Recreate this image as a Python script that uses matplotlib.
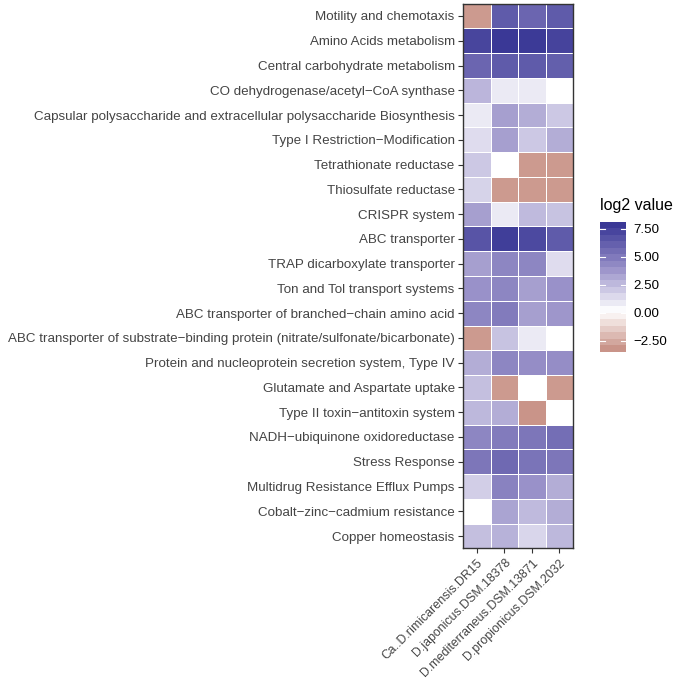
import matplotlib.pyplot as plt
import numpy as np
from matplotlib.colors import LinearSegmentedColormap, Normalize

plt.rcParams['font.family'] = ['Liberation Sans', 'DejaVu Sans']

# values (log2 scale)
pathways = ["Motility and chemotaxis",
            "Amino Acids metabolism",
            "Central carbohydrate metabolism",
            "CO dehydrogenase/acetyl\u2212CoA synthase",
            "Capsular polysaccharide and extracellular polysaccharide Biosynthesis",
            "Type I Restriction\u2212Modification",
            "Tetrathionate reductase",
            "Thiosulfate reductase",
            "CRISPR system",
            "ABC transporter",
            "TRAP dicarboxylate transporter",
            "Ton and Tol transport systems",
            "ABC transporter of branched\u2212chain amino acid",
            "ABC transporter of substrate\u2212binding protein (nitrate/sulfonate/bicarbonate)",
            "Protein and nucleoprotein secretion system, Type IV",
            "Glutamate and Aspartate uptake",
            "Type II toxin\u2212antitoxin system",
            "NADH\u2212ubiquinone oxidoreductase",
            "Stress Response",
            "Multidrug Resistance Efflux Pumps",
            "Cobalt\u2212zinc\u2212cadmium resistance",
            "Copper homeostasis"]
strains = ["Ca..D.rimicarensis.DR15", "D.japonicus.DSM.18378",
           "D.mediterraneus.DSM.13871", "D.propionicus.DSM.2032"]

dr15 = [-3.3, 7.5, 6.0, 2.7, 0.8, 1.3, 2.0, 1.6, 3.5, 6.8, 3.5,
        4.0, 4.5, -3.3, 3.0, 2.3, 2.6, 4.5, 5.2, 1.8, 0.0, 2.3]
japonicus = [6.5, 8.1, 6.5, 0.8, 3.5, 3.5, 0.0, -3.3, 0.8, 7.8, 4.5,
             4.5, 5.0, 2.2, 4.5, -3.3, 3.0, 5.0, 5.8, 4.7, 3.3, 2.8]
mediterraneus = [6.0, 8.0, 6.5, 0.8, 3.0, 2.0, -3.3, -3.3, 2.5, 7.3, 4.5,
                 3.5, 3.5, 0.8, 4.2, 0.0, -3.5, 5.2, 5.3, 4.0, 2.5, 1.5]
propionicus = [6.5, 7.6, 6.3, 0.0, 2.0, 3.0, -3.3, -3.3, 2.2, 6.5, 1.3,
               4.0, 3.8, 0.0, 4.2, -3.3, 0.0, 5.6, 5.2, 3.0, 3.0, 2.6]

vals = np.array([dr15, japonicus, mediterraneus, propionicus]).T
vmin, vmax = vals.min(), vals.max()
mid = (0 - vmin) / (vmax - vmin)
cmap = LinearSegmentedColormap.from_list(
    "g2", [(0, "#C99489"), (mid, "#FFFFFF"),
           (mid + (1 - mid) * 0.5, "#9890C8"), (1, "#3A3896")])
norm = Normalize(vmin, vmax)

fig = plt.figure(figsize=(6.75, 6.79), dpi=100)
ax = fig.add_axes([0.686, 0.1923, 0.163, 0.8024])
ax.pcolormesh(vals, cmap=cmap, norm=norm, edgecolors="white", linewidth=0.5)
ax.set_xlim(0, 4)
ax.set_ylim(len(pathways), 0)
ax.set_yticks(np.arange(len(pathways)) + 0.5)
ax.set_yticklabels(pathways, fontsize=9.6, color="#444444")
ax.set_xticks(np.arange(4) + 0.5)
ax.set_xticklabels(strains, fontsize=8.9, color="#444444", rotation=45,
                   ha="right", rotation_mode="anchor")
ax.tick_params(length=3.5, width=0.8, color="#333333", pad=2.5)
for s in ax.spines.values():
    s.set_color("#333333")
    s.set_linewidth(1.0)

# colour bar, drawn in steps like the reference
cax = fig.add_axes([0.889, 0.4816, 0.0385, 0.1915])
sm = plt.cm.ScalarMappable(norm=norm, cmap=cmap.resampled(20))
cb = fig.colorbar(sm, cax=cax, ticks=[-2.5, 0, 2.5, 5, 7.5])
cb.outline.set_visible(False)
cb.set_ticklabels(["\u22122.50", "0.00", "2.50", "5.00", "7.50"])
cax.tick_params(length=0, pad=5, labelsize=9.6)
for t in [-2.5, 0, 2.5, 5, 7.5]:
    cax.plot([0, 0.2], [t, t], color="white", lw=0.8)
    cax.plot([0.8, 1], [t, t], color="white", lw=0.8)
cax.set_xlim(0, 1)
fig.text(0.889, 0.698, "log2 value", fontsize=11.5, va="center", ha="left")

fig.savefig("out.png", dpi=100)
